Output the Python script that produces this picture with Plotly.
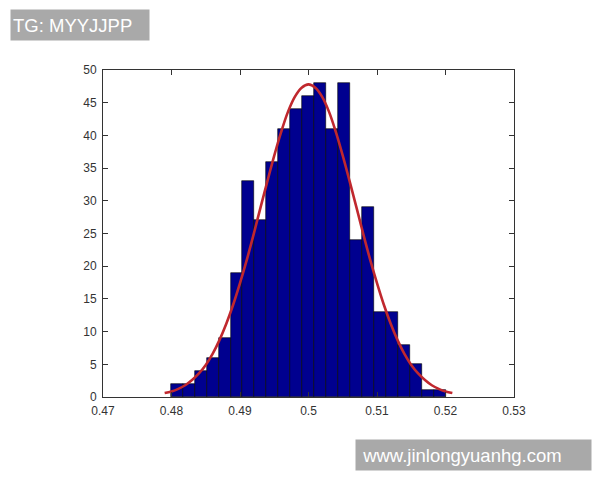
import numpy as np
import plotly.graph_objects as go

# Histogram data (counts per bin), bins span 0.4799 .. 0.5200
counts = [2, 2, 4, 6, 9, 19, 33, 27, 36, 41, 44, 46, 48, 41, 48, 24, 29, 13, 13, 8, 5, 1, 1]
bin_lo = 0.4799
bin_hi = 0.5200

# Fitted curve points
curve_x = [round(0.479 + 0.001 * i, 3) for i in range(43)]
curve_y = [0.6, 0.85, 1.25, 1.8, 2.6, 3.6, 4.9, 6.6, 8.7, 11.2, 14.1, 17.4, 21.0, 24.9,
           29.0, 33.0, 36.9, 40.5, 43.6, 45.9, 47.3, 47.8, 47.3, 45.9, 43.6, 40.5, 36.9,
           33.0, 29.0, 24.9, 21.0, 17.4, 14.1, 11.2, 8.7, 6.6, 4.9, 3.6, 2.6, 1.8, 1.25, 0.85, 0.6]

x_ticks = [0.47, 0.48, 0.49, 0.50, 0.51, 0.52, 0.53]
x_tick_labels = ["0.47", "0.48", "0.49", "0.5", "0.51", "0.52", "0.53"]
y_ticks = [0, 5, 10, 15, 20, 25, 30, 35, 40, 45, 50]

n = len(counts)
bw = (bin_hi - bin_lo) / n
centers = bin_lo + bw * (np.arange(n) + 0.5)

fig = go.Figure()
fig.add_trace(go.Bar(x=centers, y=counts, width=bw,
                     marker=dict(color="#00008F", line=dict(color="#000000", width=0.6)),
                     showlegend=False, hoverinfo="skip"))
fig.add_trace(go.Scatter(x=curve_x, y=curve_y, mode="lines", line_shape="spline",
                         line=dict(color="#C0282E", width=2.6), showlegend=False))

OFF = 8  # page body margin
W, H = 600 - OFF, 480 - OFF
L, T = 103 - OFF, 70 - OFF
R, B = W - (514 - OFF), H - (397 - OFF)
pw, ph = W - L - R, H - T - B

axis_common = dict(showgrid=False, zeroline=False, showline=True, linecolor="#333333",
                   linewidth=1, mirror="ticks", ticks="inside", ticklen=5,
                   tickcolor="#333333", tickfont=dict(family="Liberation Sans, Arial", size=12,
                                                       color="#333333"))
fig.update_xaxes(range=[0.47, 0.53], tickvals=x_ticks, ticktext=x_tick_labels,
                 ticklabelstandoff=3, **axis_common)
fig.update_yaxes(range=[0, 50], tickvals=y_ticks, ticklabelstandoff=3, **axis_common)

def px_x(p):
    return (p - OFF - L) / pw

def px_y(p):
    return (H - B - (p - OFF)) / ph

fig.add_annotation(text="TG: MYYJJPP", xref="paper", yref="paper",
                   x=px_x(10), y=px_y(25), xanchor="left", yanchor="middle",
                   showarrow=False, align="left", bgcolor="#A9A9A9",
                   width=134, height=26, borderpad=2,
                   font=dict(family="Liberation Sans, Arial", size=18.5, color="#FFFFFF"))
fig.add_annotation(text=" www.jinlongyuanhg.com", xref="paper", yref="paper",
                   x=px_x(355), y=px_y(455), xanchor="left", yanchor="middle",
                   showarrow=False, align="left", bgcolor="#A9A9A9",
                   width=231, height=26, borderpad=2,
                   font=dict(family="Liberation Sans, Arial", size=18.5, color="#FFFFFF"))

fig.update_layout(width=W, height=H, margin=dict(l=L, r=R, t=T, b=B),
                  paper_bgcolor="white", plot_bgcolor="white", bargap=0)

fig.write_html("out.html")
